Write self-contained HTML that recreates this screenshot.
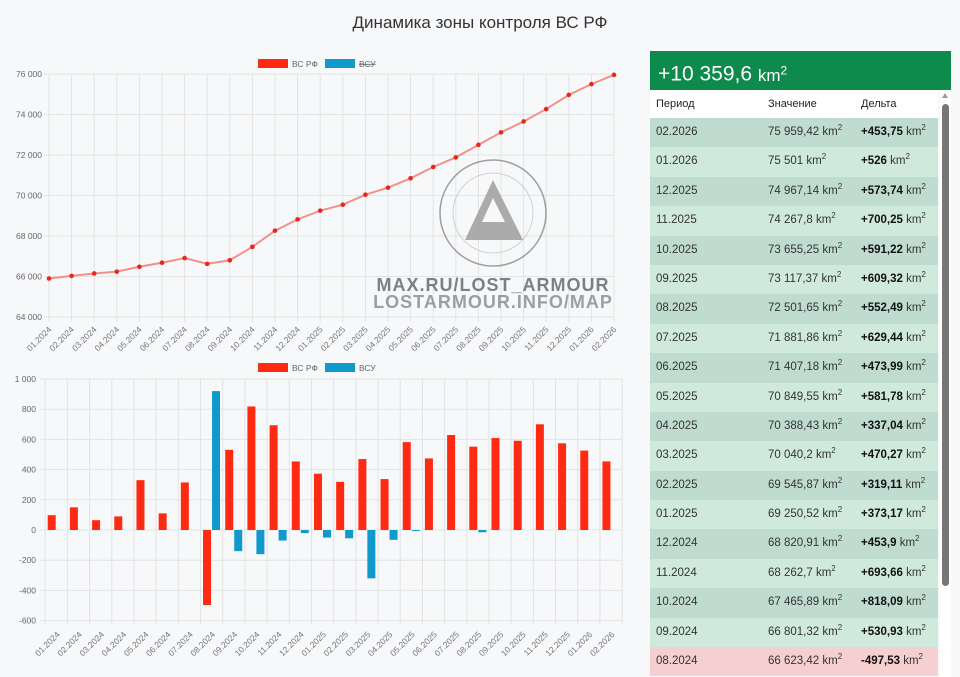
<!DOCTYPE html>
<html><head><meta charset="utf-8"><style>
body{margin:0;width:960px;height:677px;background:#f7f8fa;font-family:"Liberation Sans",sans-serif;overflow:hidden;position:relative}
svg{position:absolute;left:0;top:0}
#tbl{position:absolute;left:650px;top:51px;width:301px}
.hd{background:#0e8a4c;color:#fff;height:39px;font-size:21px;line-height:39px;padding-left:8px}
.hd sup{font-size:12px}
.th{background:#fff;height:28px;font-size:11px;line-height:28px;color:#222;position:relative;width:288px}
.r{height:29.4px;position:relative;width:288px;font-size:11.5px;color:#333;line-height:29.4px}
.c1{position:absolute;left:6px}.c2{position:absolute;left:118px}.c3{position:absolute;left:211px}
.r b{color:#111}
.r sup,.c3 sup{font-size:8px;line-height:0}
.a{background:#c0dcd0}.b{background:#cfe9dd}.p{background:#f6cfd0}
#sb{position:absolute;left:940px;top:90px;width:11px;height:587px;background:#fff}
#sb div{position:absolute;left:2px;top:14px;width:7px;height:482px;background:#777;border-radius:4px}
#sb span{position:absolute;left:2px;top:3px;border-left:3.5px solid transparent;border-right:3.5px solid transparent;border-bottom:5px solid #999}
</style></head><body>
<svg id="s" width="960" height="677"></svg>
<div id="tbl">
<div class="hd">+10 359,6 <span style="font-size:17px">km<sup>2</sup></span></div>
<div class="th"><span class="c1">Период</span><span class="c2">Значение</span><span class="c3">Дельта</span></div>
<div id="rows"></div>
</div>
<div id="sb"><span></span><div></div></div>
<script>
const rows=[["02.2026","75 959,42","+453,75"],["01.2026","75 501","+526"],["12.2025","74 967,14","+573,74"],["11.2025","74 267,8","+700,25"],["10.2025","73 655,25","+591,22"],["09.2025","73 117,37","+609,32"],["08.2025","72 501,65","+552,49"],["07.2025","71 881,86","+629,44"],["06.2025","71 407,18","+473,99"],["05.2025","70 849,55","+581,78"],["04.2025","70 388,43","+337,04"],["03.2025","70 040,2","+470,27"],["02.2025","69 545,87","+319,11"],["01.2025","69 250,52","+373,17"],["12.2024","68 820,91","+453,9"],["11.2024","68 262,7","+693,66"],["10.2024","67 465,89","+818,09"],["09.2024","66 801,32","+530,93"],["08.2024","66 623,42","-497,53"]];
let h="";rows.forEach((r,i)=>{let c=i==18?"p":(i%2?"b":"a");h+=`<div class="r ${c}"><span class="c1">${r[0]}</span><span class="c2">${r[1]} km<sup>2</sup></span><span class="c3"><b>${r[2]}</b> km<sup>2</sup></span></div>`});
document.getElementById("rows").innerHTML=h;
const labs=[];for(let y=2024;y<=2026;y++)for(let m=1;m<=12;m++){if(labs.length<26)labs.push(String(m).padStart(2,"0")+"."+y)}
let s='<text x="480" y="28" font-size="17" text-anchor="middle" fill="#333">Динамика зоны контроля ВС РФ</text>';
const x0=49,dx=22.6,yv=v=>74+(76000-v)*0.02025;
for(let i=0;i<26;i++){let x=x0+i*dx;s+=`<line x1="${x}" y1="74" x2="${x}" y2="322" stroke="#e3e3e3"/>`;s+=`<text transform="translate(${x+3},330) rotate(-45)" font-size="8.5" fill="#777" text-anchor="end">${labs[i]}</text>`}
for(let v=64000;v<=76000;v+=2000){let y=yv(v);s+=`<line x1="44" y1="${y}" x2="614" y2="${y}" stroke="#e3e3e3"/><text x="42" y="${y+3}" font-size="8.5" fill="#666" text-anchor="end">${(v/1000)+" 000"}</text>`}
const lv=[65900,66030,66150,66240,66480,66680,66910,66623,66801,67466,68263,68821,69251,69546,70040,70388,70850,71407,71882,72502,73117,73655,74268,74967,75501,75959];
s+=`<polyline fill="none" stroke="#f4908a" stroke-width="2" points="${lv.map((v,i)=>(x0+i*dx)+","+yv(v)).join(" ")}"/>`;
lv.forEach((v,i)=>s+=`<circle cx="${x0+i*dx}" cy="${yv(v)}" r="2.3" fill="#e8261c"/>`);
s+=`<rect x="258" y="59" width="30" height="9" fill="#ff2a12"/><text x="292" y="67" font-size="8.5" fill="#666">ВС РФ</text><rect x="325" y="59" width="30" height="9" fill="#1199cc"/><text x="359" y="67" font-size="8.5" fill="#666" text-decoration="line-through">ВСУ</text>`;
const bx=45.2,bw=22.19,by=v=>530-v*0.151;
for(let i=0;i<=26;i++){let x=bx+i*bw;s+=`<line x1="${x}" y1="379" x2="${x}" y2="625" stroke="#e3e3e3"/>`}
for(let i=0;i<26;i++){let x=bx+i*bw+bw/2;s+=`<text transform="translate(${x+4},635) rotate(-45)" font-size="8.5" fill="#777" text-anchor="end">${labs[i]}</text>`}
for(let v=-600;v<=1000;v+=200){let y=by(v);s+=`<line x1="40" y1="${y}" x2="622" y2="${y}" stroke="#e3e3e3"/><text x="36" y="${y+3}" font-size="8.5" fill="#666" text-anchor="end">${v==1000?"1 000":v}</text>`}
const red=[98,150,65,90,330,110,315,-497,531,818,694,454,373,319,470,337,582,474,629,552,609,591,700,574,526,454];
const blue=[0,0,0,0,0,0,0,920,-140,-160,-70,-20,-50,-55,-320,-65,-5,0,0,-15,0,0,0,0,0,0];
for(let i=0;i<26;i++){let x=bx+i*bw;let r=red[i];s+=`<rect x="${x+2.5}" y="${Math.min(by(r),530)}" width="8" height="${Math.abs(r*0.151)}" fill="#ff2a12"/>`;let b=blue[i];if(b)s+=`<rect x="${x+11.5}" y="${Math.min(by(b),530)}" width="8" height="${Math.max(1,Math.abs(b*0.151))}" fill="#1199cc"/>`}
s+=`<rect x="258" y="363" width="30" height="9" fill="#ff2a12"/><text x="292" y="371" font-size="8.5" fill="#666">ВС РФ</text><rect x="325" y="363" width="30" height="9" fill="#1199cc"/><text x="359" y="371" font-size="8.5" fill="#666">ВСУ</text>`;
s+=`<g opacity="0.8"><circle cx="493" cy="213" r="53" fill="none" stroke="#888" stroke-width="1.5"/><circle cx="493" cy="213" r="40" fill="none" stroke="#bbb" stroke-width="0.8"/><polygon points="493,180 465,240 523,240" fill="#999"/><polygon points="493,198 482,222 505,222" fill="#f7f8fa"/>
<text x="493" y="291" font-size="18" font-weight="bold" fill="#5e636a" text-anchor="middle" letter-spacing="1">MAX.RU/LOST_ARMOUR</text>
<text x="493" y="308" font-size="18" font-weight="bold" fill="#84898f" text-anchor="middle" letter-spacing="1">LOSTARMOUR.INFO/MAP</text></g>`;
document.getElementById("s").innerHTML=s;
</script>
</body></html>
